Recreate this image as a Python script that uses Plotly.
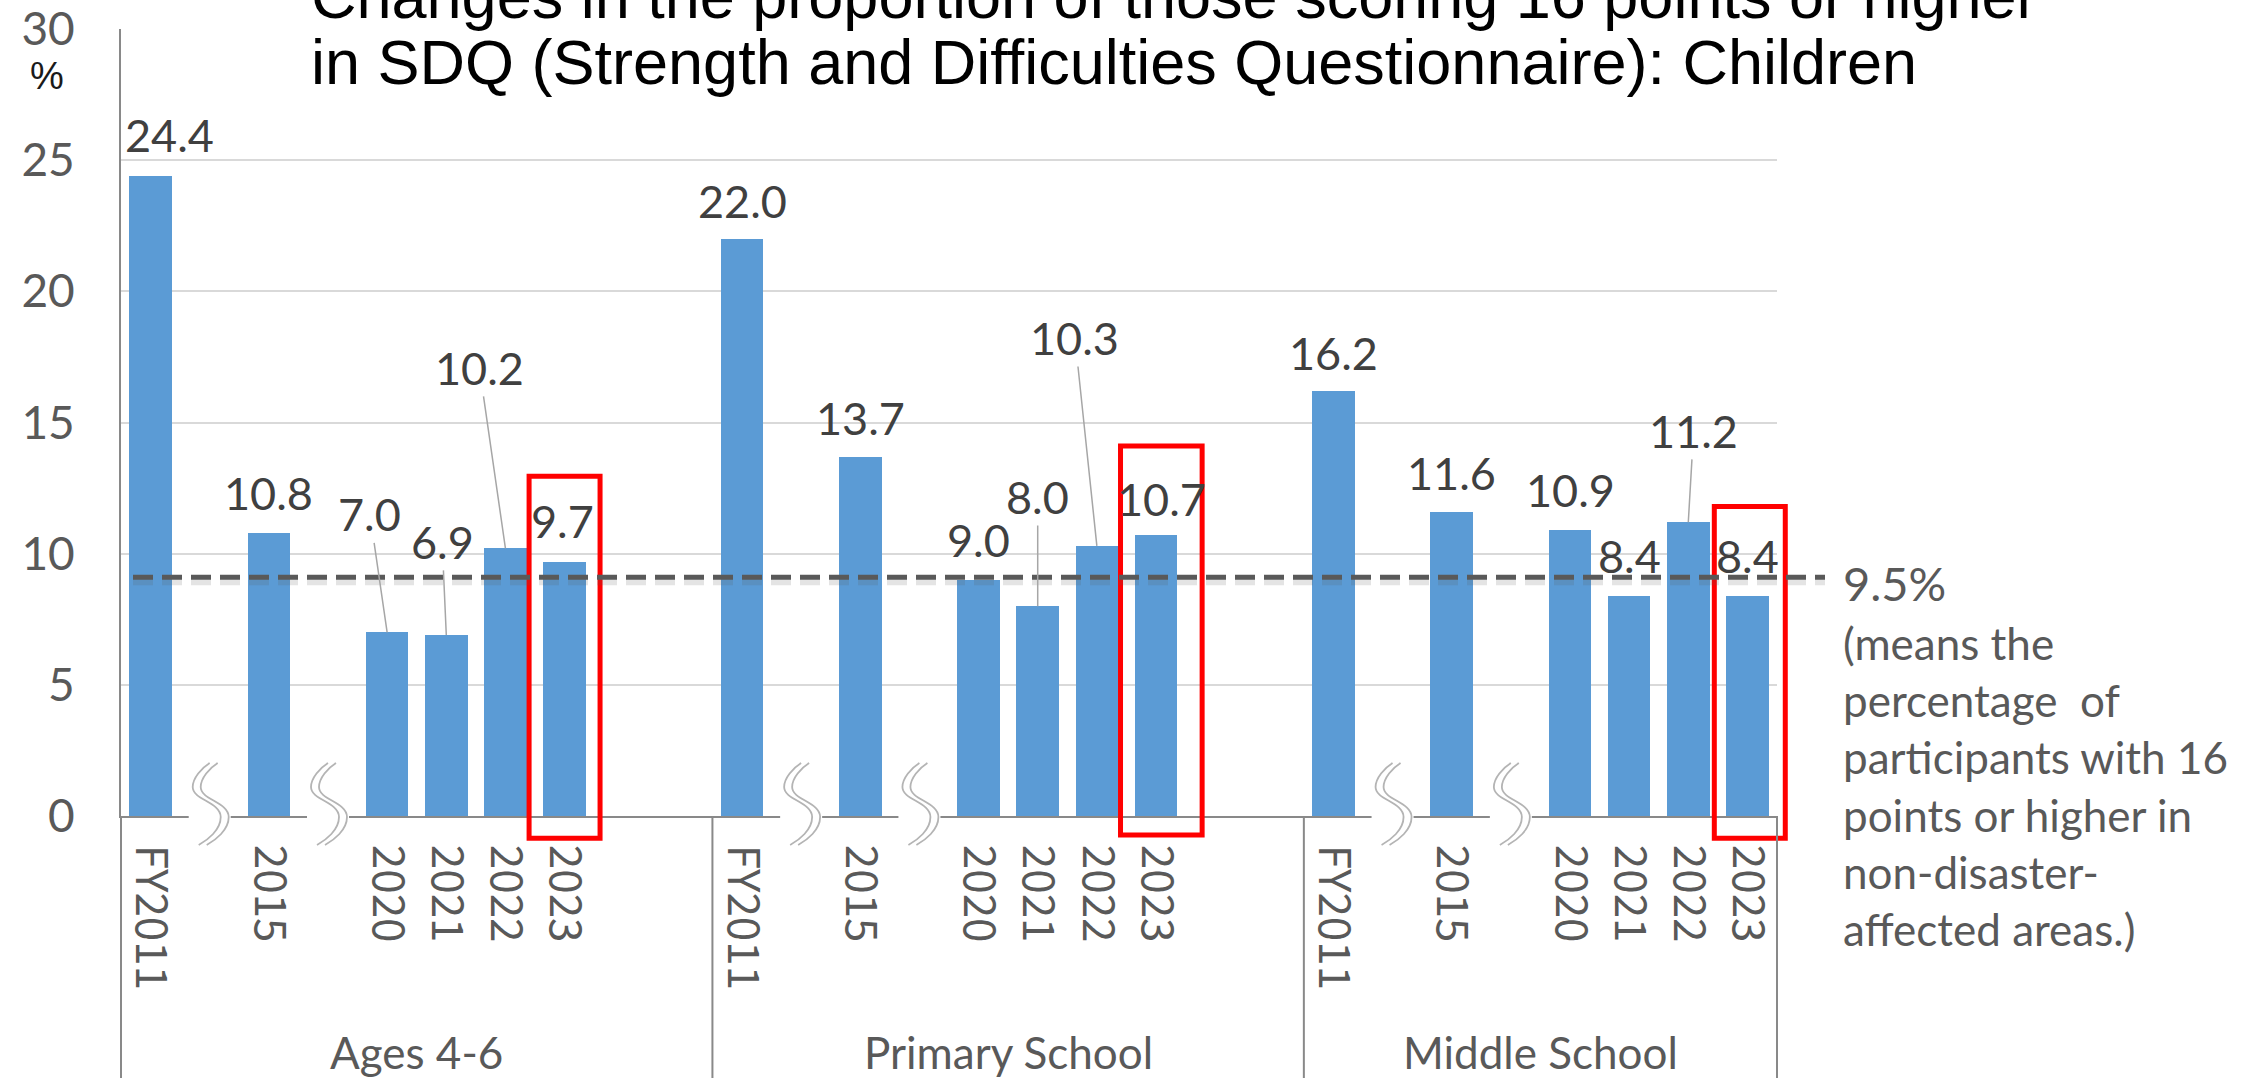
import plotly.graph_objects as go

# ---------------- data ----------------
groups = ["Ages 4-6", "Primary School", "Middle School"]
years = ["FY2011", "2015", "2020", "2021", "2022", "2023"]
ages_4_6 = [24.4, 10.8, 7.0, 6.9, 10.2, 9.7]
primary_school = [22.0, 13.7, 9.0, 8.0, 10.3, 10.7]
middle_school = [16.2, 11.6, 10.9, 8.4, 11.2, 8.4]
series = [ages_4_6, primary_school, middle_school]
reference_line_value = 9.1          # where the dashed reference line is drawn
reference_label = "9.5%"
reference_note = ["(means the", "percentage\u00a0 of", "participants with 16",
                  "points or higher in", "non-disaster-", "affected areas.)"]
y_ticks = [0, 5, 10, 15, 20, 25, 30]
title_lines = ["Changes in the proportion of those scoring 16 points or higher",
               "in SDQ (Strength and Difficulties Questionnaire): Children"]

# ---------------- layout config ----------------
W, H = 2251, 1078
ML, MR, MT, MB = 121, 474, 29, 262
PW, PH = W - ML - MR, H - MT - MB
N_SLOTS = 28
Y_MAX = 30
group_start = [0, 10, 20]
group_span = [10, 10, 8]
slot_in_group = [0, 2, 4, 5, 6, 7]
break_slots = [1, 3]
# label placement per group/bar: (dx slots, label y, leader line?)
label_pos = [
    [(0.32, 25.95, False), (0.0, 12.3, False), (-0.29, 11.5, True), (-0.07, 10.45, True), (-0.44, 17.08, True), (-0.04, 11.23, False)],
    [(0.0, 23.45, False), (0.0, 15.17, False), (0.0, 10.54, False), (0.0, 12.16, True), (-0.37, 18.22, True), (0.09, 12.09, False)],
    [(0.0, 17.65, False), (0.0, 13.09, False), (0.0, 12.43, False), (0.0, 9.91, False), (0.09, 14.68, True), (0.0, 9.91, False)],
]
# red highlight boxes: (half width in slots, extra dx, top value, bottom value)
highlight = [(0.6, 0.0, 12.95, -0.85), (0.69, 0.09, 14.1, -0.72), (0.6, 0.04, 11.8, -0.85)]

BAR_COLOR = "#5B9BD5"
AXIS_GRAY = "#898989"
TXT_GRAY = "#595959"
LBL_GRAY = "#404040"
LATO = "Lato"

def xp(slot):
    return (slot + 0.5) / N_SLOTS

def yp(v):
    return v / Y_MAX

def ypix(py):
    return (MT + PH - py) / PH

def xpix(px):
    return (px - ML) / PW

fig = go.Figure()

annotations = []
shapes = []
tickvals, ticktext = [], []

def wave(off):
    return (f"M {4+off},53 C {-4+off},48 {-13+off},38 {-13+off},29 "
            f"C {-13+off},16 {15+off},14 {15+off},-1 "
            f"C {15+off},-14 {2+off},-24 {-7+off},-29")

for g, vals in enumerate(series):
    xs = [group_start[g] + s for s in slot_in_group]
    fig.add_trace(go.Bar(x=xs, y=vals, width=0.72, marker=dict(color=BAR_COLOR, line=dict(width=0)),
                         name=groups[g], showlegend=False, hoverinfo="x+y"))
    tickvals += xs
    ticktext += years
    for i, (x, v) in enumerate(zip(xs, vals)):
        dx, ly, leader = label_pos[g][i]
        txt = f"{v:.1f}"
        if leader:
            annotations.append(dict(x=x, y=v, xref="x", yref="y", text=txt, showarrow=True,
                                    ax=x + dx, ay=ly, axref="x", ayref="y", arrowhead=0,
                                    arrowwidth=1.5, arrowcolor="#A6A6A6", standoff=0,
                                    xanchor="center", yanchor="middle",
                                    font=dict(family=LATO, size=45, color=LBL_GRAY)))
        else:
            annotations.append(dict(x=x + dx, y=ly, xref="x", yref="y", text=txt, showarrow=False,
                                    xanchor="center", yanchor="middle",
                                    font=dict(family=LATO, size=45, color=LBL_GRAY)))
    # group label
    annotations.append(dict(x=(group_start[g] + group_span[g] / 2) / N_SLOTS, y=ypix(1052),
                            xref="paper", yref="paper", text=groups[g], showarrow=False,
                            xanchor="center", yanchor="middle",
                            font=dict(family=LATO, size=44, color=TXT_GRAY)))
    # baseline breaks (squiggles)
    for b in break_slots:
        s = group_start[g] + b
        shapes.append(dict(type="rect", xref="x", yref="paper", xsizemode="pixel", ysizemode="pixel",
                           xanchor=s, yanchor=0, x0=-21, x1=21, y0=-4, y1=4,
                           fillcolor="white", line=dict(width=0), layer="above"))
        shapes.append(dict(type="path", path=wave(0), xref="x", yref="paper", xsizemode="pixel",
                           ysizemode="pixel", xanchor=s, yanchor=0,
                           line=dict(color="white", width=9), layer="above"))
        for off in (-4, 4):
            shapes.append(dict(type="path", path=wave(off), xref="x", yref="paper", xsizemode="pixel",
                               ysizemode="pixel", xanchor=s, yanchor=0,
                               line=dict(color="#B4B4B4", width=1.8), layer="above"))
    # highlight box
    hw, hdx, top, bot = highlight[g]
    c = group_start[g] + slot_in_group[-1] + hdx
    shapes.append(dict(type="rect", xref="paper", yref="paper", x0=xp(c - hw), x1=xp(c + hw),
                       y0=yp(bot), y1=yp(top), line=dict(color="#FF0000", width=5), layer="above"))

# group divider lines below axis
for b in [0, 10, 20, 28]:
    shapes.append(dict(type="line", xref="paper", yref="paper", x0=b / N_SLOTS, x1=b / N_SLOTS,
                       y0=0, y1=ypix(H + 5), line=dict(color=AXIS_GRAY, width=2), layer="above"))

# reference dashed line with soft shadow
x_line0, x_line1 = xpix(133), xpix(1825)
shapes.append(dict(type="line", xref="paper", yref="y", x0=x_line0, x1=x_line1,
                   y0=reference_line_value - 0.17, y1=reference_line_value - 0.17,
                   line=dict(color="rgba(90,90,90,0.16)", width=7, dash="20px,9px"), layer="above"))
shapes.append(dict(type="line", xref="paper", yref="y", x0=x_line0, x1=x_line1,
                   y0=reference_line_value, y1=reference_line_value,
                   line=dict(color="#595959", width=5, dash="20px,9px"), layer="above"))

annotations.append(dict(x=xpix(1841), y=ypix(583), xref="paper", yref="paper", xanchor="left",
                        yanchor="middle", text=reference_label, showarrow=False,
                        font=dict(family=LATO, size=47, color=TXT_GRAY)))
annotations.append(dict(x=xpix(1841), y=ypix(786), xref="paper", yref="paper", xanchor="left",
                        yanchor="middle", align="left", text="<br>".join(reference_note), showarrow=False,
                        font=dict(family=LATO, size=44, color=TXT_GRAY)))

# "%" unit label
annotations.append(dict(x=xpix(47), y=ypix(76), xref="paper", yref="paper", text="%",
                        xanchor="center", yanchor="middle", showarrow=False,
                        font=dict(family="Liberation Sans", size=38, color="#1a1a1a")))

# title (two lines, first partly cut off at the top)
for line, py in zip(title_lines, [-4, 62]):
    annotations.append(dict(x=xpix(309), y=ypix(py), xref="paper", yref="paper", xanchor="left",
                            yanchor="middle", text=line, showarrow=False,
                            font=dict(family="Liberation Sans", size=63, color="black")))

fig.update_layout(
    width=W, height=H,
    margin=dict(l=ML, r=MR, t=MT, b=MB, pad=0, autoexpand=False),
    paper_bgcolor="white", plot_bgcolor="white",
    bargap=0, showlegend=False,
    annotations=annotations, shapes=shapes,
)
fig.update_xaxes(range=[-0.5, N_SLOTS - 0.5], tickmode="array", tickvals=tickvals, ticktext=ticktext,
                 tickangle=90, ticks="", showgrid=False, zeroline=False, automargin=False,
                 showline=True, linecolor=AXIS_GRAY, linewidth=2, ticklabelstandoff=18,
                 tickfont=dict(family="Noto Sans CJK JP", size=44, color=TXT_GRAY))
fig.update_yaxes(range=[0, Y_MAX], tickmode="array", tickvals=y_ticks, ticks="", automargin=False,
                 showgrid=True, gridcolor="#D9D9D9", gridwidth=2, zeroline=False,
                 showline=True, linecolor=AXIS_GRAY, linewidth=2, ticklabelstandoff=35,
                 tickfont=dict(family=LATO, size=46, color=TXT_GRAY))

fig.write_html("out.html", config={"displayModeBar": False},
               post_script="document.body.style.margin='0px';")
